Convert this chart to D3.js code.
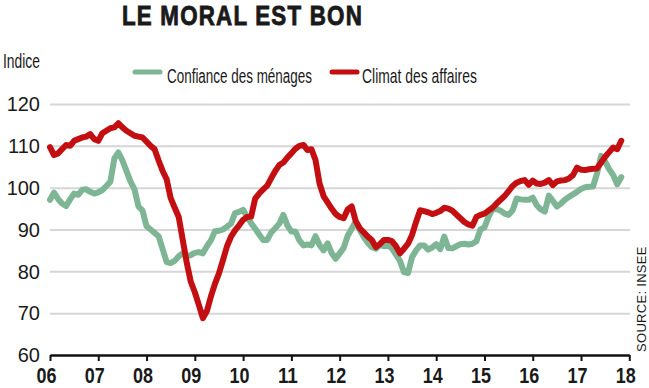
<!DOCTYPE html>
<html><head><meta charset="utf-8">
<script src="https://cdn.jsdelivr.net/npm/d3@7"></script>
<style>
body{margin:0;background:#fff;}
svg{display:block;}
</style></head>
<body><svg id="c" width="649" height="388"></svg>
<script>
const title = "LE MORAL EST BON";
const yLabel = "Indice";
const source = "SOURCE: INSEE";
const seriesNames = ["Confiance des ménages", "Climat des affaires"];
const seriesColors = ["#7db595", "#c40f12"];
const yearLabels = ["06","07","08","09","10","11","12","13","14","15","16","17","18"];
const yTicks = [60,70,80,90,100,110,120];
// monthly values, Jan 2006 -> Nov 2017
const menages = [97.1,98.8,97.3,96.2,95.6,97.2,98.6,98.3,99.5,99.6,99,98.6,
98.9,99.4,100.4,101.4,107,108.4,106.5,104,101.5,99.6,95.5,94.5,
90.8,90,89.2,88.4,85.3,82.2,82,82.5,83.6,84.3,83.6,83.9,
84.4,84.6,84.3,86,87.4,89.6,89.7,90,90.7,91.4,93.9,94.2,
94.7,93,91.5,90.2,88.8,87.5,87.5,89.3,90.3,91.4,93.5,91,
89.5,89.5,87.4,86.2,86.4,86.2,88.4,86.3,85,86.7,84.4,83,
84.3,85.6,88.5,90.2,91.9,89.9,88.2,86.8,85.8,85.4,86.3,86,
86.1,85.5,84,82.5,79.8,79.6,83.4,85,86.2,86.2,85.2,85.7,
86.5,85.3,88.3,85.6,85.5,86,86.5,86.6,86.4,86.6,87.2,90,
90.5,93,94.8,94.9,94.5,93.8,93.5,94.6,97.4,97.2,97.1,97.1,
97.6,95.8,94.8,94.3,98.1,96.8,95.5,96.2,97.1,97.8,98.4,99,
99.7,100.1,100.2,100.3,103.5,107.6,106.2,104.4,103,100.8,102.5];
const affaires = [109.7,107.8,108.2,109.2,110.2,110,111.2,111.6,112,112.2,112.8,111.6,
111.2,113,113.6,114.2,114.4,115.4,114.4,113.6,113,112.4,112.2,112,
111,110,109.2,106.5,104,102,97.5,95.2,93,87.5,82,77.5,
75,72,68.8,70.5,74,77,79.5,82.7,86,88.3,89.8,91,
92.3,93,93.1,97.4,98.6,99.6,100.5,102.3,104,105.4,106,107.2,
108.2,109.3,110,110.2,109,109.2,106.6,101,98,96.5,95,93.7,
93,92.7,94.8,95.5,92,90.3,89.3,88.3,87.5,85.8,86.5,87.5,
87.5,87.2,86,84.3,85.4,86.6,88.7,91.8,94.6,94.4,94.1,93.7,
94,94.4,95.2,95,94.5,93.6,92.7,91.8,91.2,90.9,93,93.5,
93.8,94.5,95.2,96.2,97.1,98,99.2,100.4,101.2,101.6,101.8,100.7,
101.7,101,100.9,101.2,101.8,100.6,101.5,101.7,101.8,102.2,103,104.8,
104.3,104.2,104.4,104.5,104.6,106,107.4,108.5,109.6,109.2,111.2];

const svg = d3.select("#c");
const x = d3.scaleLinear().domain([0,144]).range([50,629.3]);
const y = d3.scaleLinear().domain([60,120]).range([355,104]);
const sans = "'Liberation Sans',Arial,sans-serif";

// place a text at (tx,ty) horizontally scaled to a target width
function fitText(parent, str, tx, ty, width, attrs){
  const t = parent.append("text").attr("x",0).attr("y",0).attr("text-anchor","start").text(str);
  Object.entries(attrs).forEach(([k,v])=>t.attr(k,v));
  const len = t.node().getComputedTextLength();
  t.attr("transform",`translate(${tx},${ty}) scale(${width/len},1)`);
  return t;
}

// title
fitText(svg, title, 122, 25, 241, {"font-family":sans,"font-weight":"bold","font-size":28,
  "letter-spacing":1.5,"fill":"#1a1a1a","stroke":"#1a1a1a","stroke-width":0.9});

fitText(svg, yLabel, 3, 68, 37, {"font-family":sans,"font-size":20,"fill":"#1a1a1a"});

// grid
const grid = svg.append("g").attr("transform","translate(50,0)")
  .call(d3.axisLeft(y).tickValues(yTicks.slice(1)).tickSize(-580).tickFormat(""));
grid.select(".domain").remove();
grid.selectAll("line").attr("stroke","#d6d6d6").attr("stroke-width",2);

// y labels
svg.append("g").selectAll("text").data(yTicks).join("text")
  .attr("x",40).attr("y",d=>y(d)).attr("dy","0.36em").attr("text-anchor","end")
  .attr("font-family",sans).attr("font-size",20).attr("fill","#1a1a1a").text(d=>d);

// x axis
const xa = svg.append("g").attr("transform","translate(0,355)")
  .call(d3.axisBottom(x).tickValues(d3.range(0,145,12)).tickSize(6).tickSizeOuter(0).tickFormat(""));
xa.select(".domain").attr("stroke","#111").attr("stroke-width",2.5);
xa.selectAll(".tick line").attr("stroke","#111").attr("stroke-width",2);
xa.selectAll(".tick").each(function(d,i){
  fitText(d3.select(this), yearLabels[i], -14, 28, 20,
    {"font-family":sans,"font-weight":"bold","font-size":22,"fill":"#1a1a1a"});
});

// lines
const line = d3.line().x((d,i)=>x(i)).y(d=>y(d)).curve(d3.curveLinear);
[menages, affaires].forEach((s,k)=>{
  svg.append("path").datum(s).attr("d",line).attr("fill","none")
    .attr("stroke",seriesColors[k]).attr("stroke-width",6)
    .attr("stroke-linejoin","round").attr("stroke-linecap","round");
});

// legend
const leg = [{x:133,tx:167,w:145},{x:330,tx:362,w:115}];
leg.forEach((l,k)=>{
  svg.append("line").attr("x1",l.x+2).attr("x2",l.x+27).attr("y1",72).attr("y2",72)
    .attr("stroke",seriesColors[k]).attr("stroke-width",5).attr("stroke-linecap","round");
  fitText(svg, seriesNames[k], l.tx, 83, l.w, {"font-family":sans,"font-size":20,"fill":"#1a1a1a"});
});

// source
svg.append("text").attr("transform","translate(646,352) rotate(-90)")
  .attr("font-family",sans).attr("font-size",13).attr("letter-spacing",0.3)
  .attr("fill","#1a1a1a").text(source);
</script></body></html>
